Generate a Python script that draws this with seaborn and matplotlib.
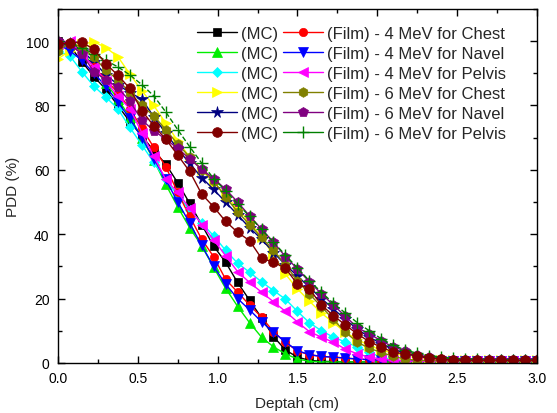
import matplotlib
matplotlib.use("Agg")
import matplotlib.pyplot as plt
from matplotlib.ticker import MultipleLocator
from matplotlib.lines import Line2D
import seaborn as sns
import pandas as pd

depth = [0.0, 0.075, 0.15, 0.225, 0.3, 0.375, 0.45, 0.525, 0.6, 0.675,
         0.75, 0.825, 0.9, 0.975, 1.05, 1.125, 1.2, 1.275, 1.35, 1.425,
         1.5, 1.575, 1.65, 1.725, 1.8, 1.875, 1.95, 2.025, 2.1, 2.175,
         2.25, 2.325, 2.4, 2.475, 2.55, 2.625, 2.7, 2.775, 2.85, 2.925, 3.0]

mc_4_chest = [100, 98.5, 93.6, 89, 85, 80, 75, 70.5, 66, 61.8,
              56, 49.6, 43, 36.3, 31.3, 25, 19.5, 14, 8.2, 4,
              1.8, 0.8, 0.5, 0.4, 0.3, 0.3, 0.3, 0.3, 0.3, 0.3,
              0.3, 0.3, 0.3, 0.3, 0.3, 0.3, 0.3, 0.3, 0.3, 0.3, 0.3]
film_4_chest = [100, 99, 96, 92, 88, 84, 79, 73, 67, 61,
                53, 45.5, 38.5, 33, 26, 22, 18, 14.2, 9.7, 6.4,
                3.7, 2.5, 2, 1.8, 1.5, 1.2, 1, 0.8, 0.8, 0.7,
                0.7, 0.6, 0.6, 0.6, 0.5, 0.5, 0.5, 0.5, 0.5, 0.5, 0.5]
mc_4_navel = [100, 99, 97, 92, 87, 82, 76.5, 70, 63, 55.5,
              48.5, 42, 36.4, 29.7, 23.2, 17.6, 12.5, 8, 5, 2.8,
              1.2, 0.5, 0.3, 0.3, 0.3, 0.3, 0.3, 0.3, 0.3, 0.3,
              0.3, 0.3, 0.3, 0.3, 0.3, 0.3, 0.3, 0.3, 0.3, 0.3, 0.3]
film_4_navel = [99, 97, 94, 90, 86, 81, 76, 70, 63.5, 57,
                50, 43.5, 36.5, 30, 24.5, 20, 16.5, 12.8, 9.5, 6.5,
                3.8, 2.6, 2, 1.8, 1.5, 1.2, 1, 0.8, 0.7, 0.7,
                0.6, 0.6, 0.5, 0.5, 0.5, 0.5, 0.5, 0.5, 0.5, 0.5, 0.5]
mc_4_pelvis = [97, 95.4, 90.5, 86, 82.6, 79, 73.2, 67.8, 62.3, 57,
               52, 47.5, 43.5, 39.5, 35, 31, 28.2, 25.2, 22.5, 19.8,
               16, 12.5, 10, 8, 6.5, 5, 3.3, 1.8, 1, 0.6,
               0.5, 0.5, 0.5, 0.5, 0.5, 0.5, 0.5, 0.5, 0.5, 0.5, 0.5]
film_4_pelvis = [99, 100, 96, 92, 87.5, 83, 79, 71.6, 64.2, 57,
                 53, 48, 43, 38.3, 33.3, 28.4, 25, 22, 19, 16,
                 12.7, 9.7, 8, 6.4, 4.3, 2.8, 1.8, 1.2, 0.8, 0.6,
                 0.5, 0.5, 0.5, 0.5, 0.5, 0.5, 0.5, 0.5, 0.5, 0.5, 0.5]
mc_6_chest = [94.5, 97, 99, 99.8, 98, 95.2, 89.8, 84.6, 80, 74.5,
              69, 64, 60, 56, 52.3, 47.8, 44, 39, 33.5, 27.6,
              23, 19.2, 15.5, 12.5, 9.5, 7.3, 5.4, 4, 3, 2.2,
              1.6, 1.2, 1, 0.9, 0.8, 0.8, 0.8, 0.8, 0.8, 0.8, 0.8]
film_6_chest = [97, 99.5, 98, 95, 91, 88, 84, 80, 76.8, 72.5,
                68, 64, 60, 56.6, 51.5, 47, 43, 39, 35, 30.5,
                25.5, 21.4, 17.5, 13.5, 9.5, 6.5, 4.5, 3.3, 2, 1.2,
                0.8, 0.7, 0.6, 0.6, 0.6, 0.6, 0.6, 0.6, 0.6, 0.6, 0.6]
mc_6_navel = [98, 99.5, 97, 93.6, 89.5, 86.5, 84, 82, 76.5, 71.4,
              66.5, 62, 57.6, 53.9, 50, 46, 42, 38.5, 34.3, 30.5,
              27, 23.5, 20, 16.8, 13.5, 10.5, 8, 6, 4.3, 3,
              2, 1.5, 1.2, 1, 0.9, 0.8, 0.8, 0.8, 0.8, 0.8, 0.8]
film_6_navel = [100, 99, 96, 90.5, 88, 85.6, 81.3, 75.5, 72.2, 69.5,
                66.7, 63.4, 60.2, 57.3, 54, 50, 45.7, 41.6, 37.5, 33,
                29.2, 25.2, 21.5, 18, 14.5, 11, 9, 6.9, 4.9, 3.8,
                2.5, 1.8, 1.2, 1, 0.8, 0.8, 0.8, 0.8, 0.8, 0.8, 0.8]
mc_6_pelvis = [99, 99.5, 99.6, 97.5, 93, 89.4, 85.3, 78.4, 73.7, 69.6,
               64.6, 59.5, 52.5, 48.5, 44, 40.6, 38, 32.5, 31.3, 29.4,
               24.5, 23, 18, 14.7, 11.8, 9, 6.6, 4.9, 3.3, 2.8,
               2.2, 1.6, 1.1, 0.9, 0.8, 0.8, 0.8, 0.8, 0.8, 0.8, 0.8]
film_6_pelvis = [100, 99, 98, 96, 94, 92, 89.5, 86.5, 83, 78,
                 72.5, 67.2, 62.1, 57.3, 53.5, 49.5, 45.5, 41.5, 37.5, 33.5,
                 29.5, 25.5, 22, 18.5, 15.5, 12.5, 10, 7.5, 5.5, 4,
                 3, 2.3, 1.8, 1.4, 1.2, 1.1, 1, 1, 1, 1, 1]

mc_labels = ["(MC)"] * 6
film_labels = ["(Film) - 4 MeV for Chest", "(Film) - 4 MeV for Navel",
               "(Film) - 4 MeV for Pelvis", "(Film) - 6 MeV for Chest",
               "(Film) - 6 MeV for Navel", "(Film) - 6 MeV for Pelvis"]

sns.set_style("ticks")
plt.rcParams['font.family'] = ['Liberation Sans', 'DejaVu Sans']

fig = plt.figure(figsize=(5.57, 4.14), dpi=100)
ax = fig.add_axes([0.104, 0.121, 0.86, 0.855])

series = [
    # (values, color, marker, size, linestyle)
    (mc_4_chest, "#000000", "s", 5.5, "-"),
    (mc_4_navel, "#00ee00", "^", 7, "-"),
    (mc_4_pelvis, "#00ffff", "D", 5.5, "-"),
    (mc_6_chest, "#ffff00", ">", 7, "-"),
    (mc_6_navel, "#000080", "*", 8.5, "-"),
    (film_4_chest, "#ff0000", "o", 6, "-"),
    (film_4_navel, "#0000ff", "v", 7, "-"),
    (film_4_pelvis, "#ff00ff", "<", 7, "-"),
    (film_6_chest, "#808000", "h", 7, "-"),
    (film_6_navel, "#800080", "p", 7, "-"),
    (film_6_pelvis, "#008000", "+", 8, "--"),
    (mc_6_pelvis, "#800000", "o", 7, "-"),
]

handles = {}
for vals, col, mk, ms, ls in series:
    df = pd.DataFrame({"Depth": depth, "PDD": vals})
    sns.lineplot(data=df, x="Depth", y="PDD", ax=ax, color=col, marker=mk,
                 markersize=ms, markeredgecolor=col,
                 markeredgewidth=1.0 if mk == "+" else 0.5,
                 linewidth=1.0, linestyle=ls, legend=False, errorbar=None, sort=False)
    handles[(col, mk)] = ax.get_lines()[-1]

order = [("#000000", "s"), ("#00ee00", "^"), ("#00ffff", "D"), ("#ffff00", ">"),
         ("#000080", "*"), ("#800000", "o"),
         ("#ff0000", "o"), ("#0000ff", "v"), ("#ff00ff", "<"), ("#808000", "h"),
         ("#800080", "p"), ("#008000", "+")]
leg_handles = []
for key in order:
    h = handles[key]
    leg_handles.append(Line2D([], [], color=h.get_color(), marker=h.get_marker(),
                              markersize=h.get_markersize(),
                              markeredgecolor=h.get_markeredgecolor(),
                              markeredgewidth=h.get_markeredgewidth(),
                              linewidth=1.0, linestyle="-"))
leg_labels = mc_labels + film_labels
ax.legend(leg_handles, leg_labels, ncol=2, loc="upper right",
          bbox_to_anchor=(0.935, 0.952), frameon=False, fontsize=12,
          handlelength=2.4, handletextpad=0.25, columnspacing=0.25,
          labelspacing=0.3, borderpad=0.0, borderaxespad=0.0)

ax.set_xlim(0, 3.0)
ax.set_ylim(0, 110)
ax.xaxis.set_major_locator(MultipleLocator(0.5))
ax.xaxis.set_minor_locator(MultipleLocator(0.25))
ax.yaxis.set_major_locator(MultipleLocator(20))
ax.yaxis.set_minor_locator(MultipleLocator(10))
ax.tick_params(which="both", direction="in", top=True, right=True,
               labelsize=10, width=1, colors="black", pad=6)
ax.tick_params(which="major", length=5)
ax.tick_params(which="minor", length=3)
ax.set_xticks([0, 0.5, 1.0, 1.5, 2.0, 2.5, 3.0])
ax.set_xticklabels(["0.0", "0.5", "1.0", "1.5", "2.0", "2.5", "3.0"])
for s in ax.spines.values():
    s.set_linewidth(1.0)
    s.set_color("black")
ax.set_xlabel("Deptah (cm)", fontsize=11, labelpad=8)
ax.set_ylabel("PDD (%)", fontsize=11, labelpad=5)

fig.savefig("out.png", dpi=100)
